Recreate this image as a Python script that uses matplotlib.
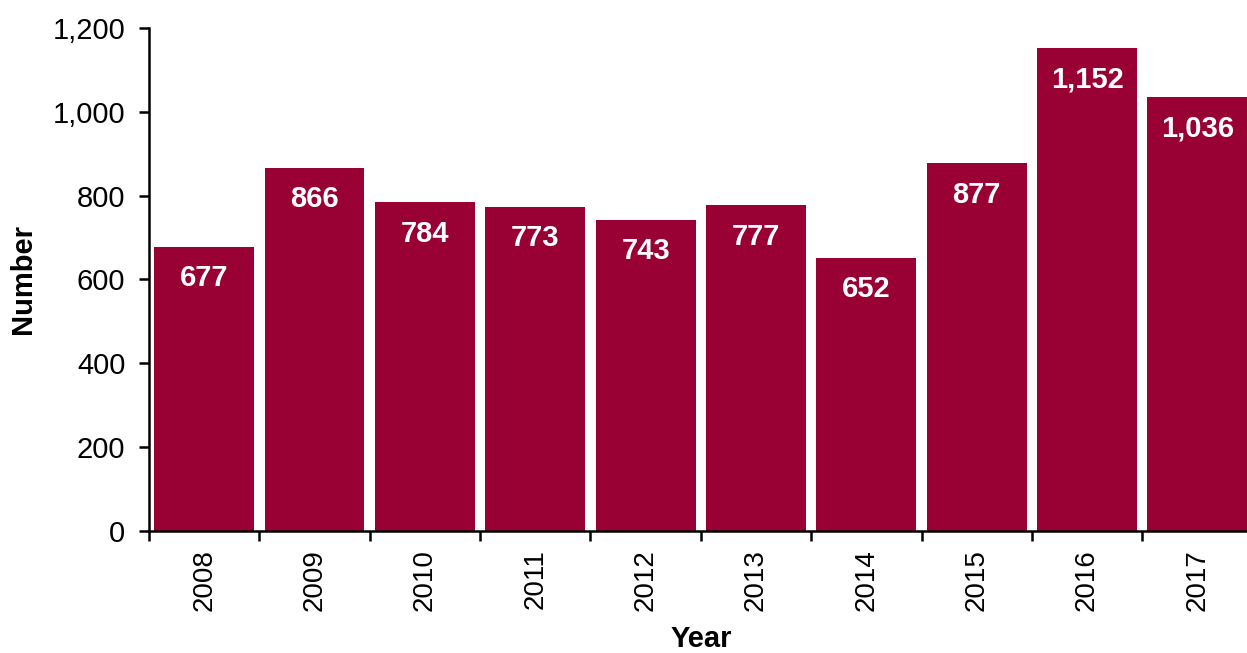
import matplotlib
matplotlib.use('Agg')
import matplotlib.pyplot as plt
from matplotlib.ticker import FuncFormatter, FixedLocator
import numpy as np

years = ['2008', '2009', '2010', '2011', '2012', '2013', '2014', '2015', '2016', '2017']
counts = [677, 866, 784, 773, 743, 777, 652, 877, 1152, 1036]

BAR_COLOR = '#990033'
plt.rcParams['font.family'] = ['Liberation Sans', 'DejaVu Sans']

fig = plt.figure(figsize=(12.47, 6.53), dpi=100)
ax = fig.add_axes([0.1195, 0.187, 0.885, 0.77])

x = np.arange(len(years))
bars = ax.bar(x, counts, width=0.905, color=BAR_COLOR, edgecolor='none')

# value labels sit inside the top of each bar
for xi, v in zip(x, counts):
    ax.annotate(f'{v:,}', (xi, v), xytext=(0, -22.5), textcoords='offset points',
                ha='center', va='center', color='white', fontsize=21, fontweight='bold')

ax.set_xlim(-0.5, len(years) - 0.5)
ax.set_ylim(0, 1200)
ax.set_yticks(range(0, 1201, 200))
ax.yaxis.set_major_formatter(FuncFormatter(lambda v, p: f'{int(v):,}'))

# year labels centred on bars, tick marks between them
ax.set_xticks(x)
ax.set_xticklabels(years, rotation=90, fontsize=20)
ax.xaxis.set_minor_locator(FixedLocator(np.arange(-0.5, len(years), 1.0)))
ax.tick_params(axis='x', which='major', length=0, pad=13)
ax.tick_params(axis='x', which='minor', length=7, width=1.8, direction='out')
ax.tick_params(axis='y', labelsize=21, length=7, width=1.8, direction='out', pad=10)

for s in ['top', 'right']:
    ax.spines[s].set_visible(False)
for s in ['left', 'bottom']:
    ax.spines[s].set_linewidth(1.8)

ax.set_xlabel('Year', fontsize=21, fontweight='bold', labelpad=10)
ax.set_ylabel('Number', fontsize=21, fontweight='bold', labelpad=11)

plt.savefig('out.png', dpi=100)
plt.close()
